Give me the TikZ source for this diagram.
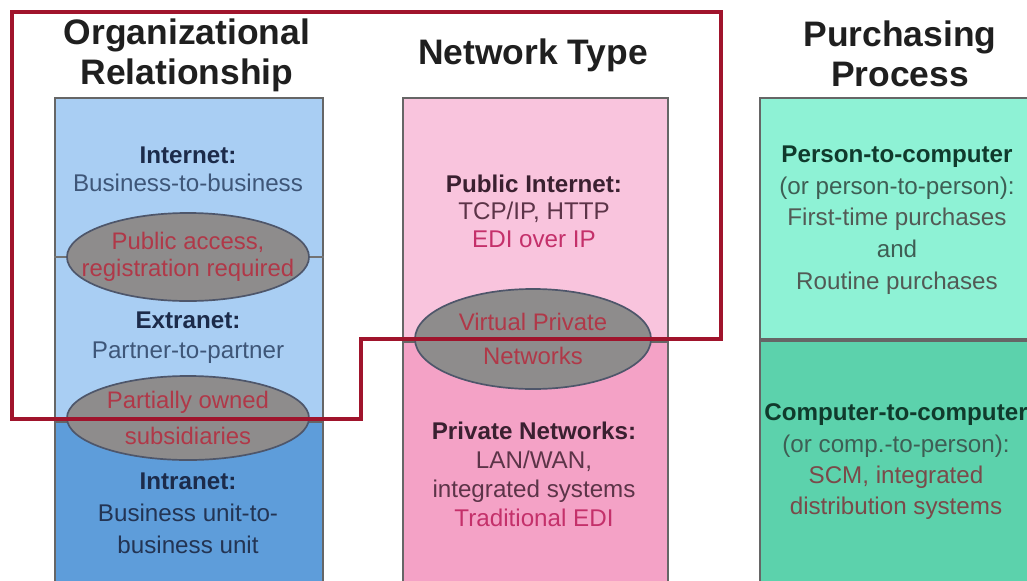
\documentclass[tikz,border=0pt]{standalone}
\usepackage{fontspec}
\setmainfont{Liberation Sans}
\usetikzlibrary{positioning, shapes.geometric}

\definecolor{orgLight}{HTML}{A9CEF3}
\definecolor{orgDark}{HTML}{5E9DDA}
\definecolor{netLight}{HTML}{F9C4DD}
\definecolor{netDark}{HTML}{F4A2C6}
\definecolor{buyLight}{HTML}{8EF2D5}
\definecolor{buyDark}{HTML}{5CD2AC}
\definecolor{ovalGray}{HTML}{8E8C8C}
\definecolor{ovalEdge}{HTML}{4E566A}
\definecolor{ovalText}{HTML}{B03848}
\definecolor{frameRed}{HTML}{A0142C}
\definecolor{orgHead}{HTML}{1C2B4A}
\definecolor{orgBody}{HTML}{3E5678}
\definecolor{netHead}{HTML}{3A2030}
\definecolor{netBody}{HTML}{5C3448}
\definecolor{ediRed}{HTML}{C4306A}
\definecolor{buyHead}{HTML}{103A2C}
\definecolor{buyBody}{HTML}{3E5E54}
\definecolor{buyGray}{HTML}{525A55}
\definecolor{scmRed}{HTML}{7A4A4A}

\begin{document}
\begin{tikzpicture}[
    x=0.025cm, y=-0.025cm,
    col/.style={draw=black!60, line width=1.3pt, inner sep=0pt,
                minimum width=#1},
    head/.style={font=\fontsize{25.2}{28.5}\selectfont\bfseries,
                 text=black!88, align=center},
    txt/.style={font=\fontsize{17.2}{#1}\selectfont, align=center},
    txt/.default=21pt,
    oval/.style={ellipse, draw=ovalEdge, line width=1.2pt, fill=ovalGray,
                 inner sep=0pt},
    ovaltxt/.style={font=\fontsize{17}{#1}\selectfont, text=ovalText,
                    align=center},
    redline/.style={draw=frameRed, line width=3pt, line join=miter}
]
\useasboundingbox (0,0) rectangle (1027,580);
\clip (0,0) rectangle (1027,580);

%---------------- Column headings ----------------
\node[head] (orgTitle) at (187,55) {Organizational\\Relationship};
\node[head] (netTitle) at (533,55) {Network Type};
\node[head] (buyTitle) at (900,54) {Purchasing\\Process};

%---------------- Organizational relationship ----------------
\node[col=6.7cm, fill=orgLight, minimum height=8.05cm] (orgTop) at (189,259) {};
\node[col=6.7cm, fill=orgDark, minimum height=4.1cm, below=0pt of orgTop] (orgBot) {};

\coordinate (pubMid) at (188,257);
\draw[black!55, line width=0.8pt] (orgTop.west |- pubMid) -- (orgTop.east |- pubMid);

\node[txt=20pt] (internet) at (188,169)
    {\textcolor{orgHead}{\bfseries Internet:}\\
     \textcolor{orgBody}{Business-to-business}};
\node[oval, minimum width=6.05cm, minimum height=2.2cm] (pubAccess) at (pubMid) {};
\node[ovaltxt=19.5pt] (pubAccessTxt) at (pubAccess) {Public access,\\registration required};

\node[txt=21.5pt] (extranet) at (188,338)
    {\textcolor{orgHead}{\bfseries Extranet:}\\
     \textcolor{orgBody}{Partner-to-partner}};
\node[oval, minimum width=6.05cm, minimum height=2.1cm] (partOwned) at (188,418) {};
\node[ovaltxt=25pt] (partOwnedTxt) at (partOwned) {Partially owned\\subsidiaries};

\node[txt=22.8pt] (intranet) at (188,513)
    {\textcolor{orgHead}{\bfseries Intranet:}\\
     \textcolor{orgHead!80!orgBody}{Business unit-to-}\\
     \textcolor{orgHead!80!orgBody}{business unit}};

%---------------- Network type ----------------
\node[col=6.625cm, fill=netLight, minimum height=6.05cm] (netTop) at (535.5,219) {};
\node[col=6.625cm, fill=netDark, minimum height=6.1cm, below=0pt of netTop] (netBot) {};

\node[txt=19.6pt] (pubNet) at (534,211)
    {\textcolor{netHead}{\bfseries Public Internet:}\\
     \textcolor{netBody}{TCP/IP, HTTP}\\
     \textcolor{ediRed}{EDI over IP}};
\node[oval, minimum width=5.9cm, minimum height=2.5cm] (vpn) at (533,339) {};
\node[ovaltxt=24pt] (vpnTxt) at (vpn) {Virtual Private\\Networks};
\node[txt=20.6pt] (privNet) at (534,474)
    {\textcolor{netHead}{\bfseries Private Networks:}\\
     \textcolor{netBody}{LAN/WAN,}\\
     \textcolor{netBody}{integrated systems}\\
     \textcolor{ediRed}{Traditional EDI}};

%---------------- Purchasing process ----------------
\node[col=6.85cm, fill=buyLight, minimum height=6.025cm] (buyTop) at (897,218.5) {};
\node[col=6.85cm, fill=buyDark, minimum height=6.1cm, below=0pt of buyTop] (buyBot) {};

\node[txt=22.6pt] (personPC) at (897,220)
    {\textcolor{buyHead}{\bfseries Person-to-computer}\\
     \textcolor{buyBody}{(or person-to-person):}\\
     \textcolor{buyGray}{First-time purchases}\\
     \textcolor{buyBody}{and}\\
     \textcolor{buyGray}{Routine purchases}};
\node[txt=22.3pt] (compPC) at (896,462)
    {\textcolor{buyHead}{\bfseries Computer-to-computer}\\
     \textcolor{buyBody}{(or comp.-to-person):}\\
     \textcolor{scmRed}{SCM, integrated}\\
     \textcolor{scmRed}{distribution systems}};

%---------------- Boundary of the web-based part ----------------
\draw[redline] (12,12) -| (721,339) -| (361,419) -- (12,419) -- cycle;

\end{tikzpicture}
\end{document}
